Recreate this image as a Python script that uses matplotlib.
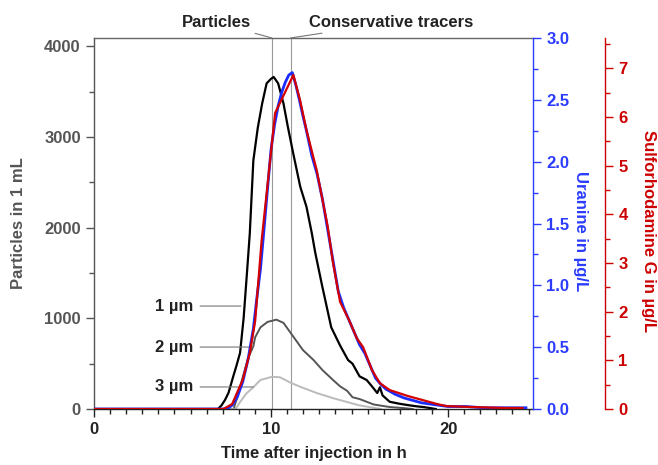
import matplotlib
matplotlib.use('Agg')
import matplotlib.pyplot as plt
from matplotlib.ticker import MultipleLocator, FormatStrFormatter

plt.rcParams['font.family'] = ['Liberation Sans', 'DejaVu Sans']
plt.rcParams['font.weight'] = 'bold'

# particle counts (particles in 1 mL) vs time after injection (h)
t_1um = [0, 7.0, 7.2, 7.4, 7.6, 7.85, 8.05, 8.25, 8.45, 8.65, 8.8, 9.0, 9.25, 9.5, 9.75,
         10.0, 10.15, 10.4, 10.7, 10.95, 11.25, 11.65, 12.0, 12.3, 12.5, 12.9, 13.4, 13.9,
         14.35, 14.6, 15.0, 15.4, 15.7, 16.0, 16.15, 16.3, 16.7, 17.2, 17.7, 18.2, 18.6, 19.0, 19.3]
n_1um = [0, 0, 40, 100, 180, 350, 480, 620, 1000, 1530, 1940, 2740, 3100, 3370, 3590,
         3640, 3660, 3590, 3370, 3110, 2820, 2450, 2230, 1940, 1720, 1345, 900, 700,
         540, 500, 360, 320, 250, 176, 240, 150, 80, 60, 44, 30, 22, 10, 0]

t_2um = [0, 7.9, 7.95, 8.1, 8.4, 8.7, 9.0, 9.1, 9.4, 9.8, 10.3, 10.7, 11.25, 11.8, 12.4,
         12.9, 13.5, 13.9, 14.3, 14.6, 15.0, 15.8, 16.7, 17.5, 18.0]
n_2um = [0, 0, 44, 130, 350, 560, 690, 790, 900, 960, 985, 950, 800, 650, 540,
         430, 320, 250, 200, 130, 110, 50, 22, 10, 0]

t_3um = [0, 8.0, 8.25, 8.6, 9.0, 9.4, 10.05, 10.5, 11.1, 11.65, 12.6, 13.5, 14.5, 15.0, 15.6, 16.2]
n_3um = [0, 0, 77, 170, 240, 320, 355, 350, 290, 245, 175, 120, 66, 40, 20, 0]

# uranine (µg/L)
t_uranine = [0, 7.5, 7.8, 8.1, 8.4, 8.7, 9.0, 9.2, 9.4, 9.6, 9.8, 10.0, 10.2, 10.4, 10.6,
             10.8, 11.0, 11.2, 11.4, 11.6, 11.8, 12.0, 12.3, 12.6, 12.9, 13.2, 13.5, 13.8,
             14.1, 14.4, 14.7, 15.0, 15.3, 15.6, 15.9, 16.2, 16.5, 17.0, 17.5, 18.0, 18.5,
             19.0, 19.5, 20.0, 21.0, 22.0, 23.0, 24.4]
c_uranine = [0, 0, 0.03, 0.1, 0.22, 0.4, 0.65, 0.9, 1.13, 1.45, 1.78, 2.1, 2.3, 2.45, 2.56,
             2.64, 2.7, 2.72, 2.62, 2.5, 2.37, 2.25, 2.05, 1.9, 1.7, 1.45, 1.2, 0.95,
             0.82, 0.72, 0.62, 0.52, 0.45, 0.35, 0.25, 0.2, 0.16, 0.12, 0.09, 0.07, 0.05,
             0.04, 0.03, 0.02, 0.02, 0.01, 0.01, 0.01]

# sulforhodamine G (µg/L)
t_sulfo = [0, 7.3, 7.8, 8.4, 8.8, 9.1, 9.47, 9.85, 10.23, 11.26, 11.64, 12.0, 12.58, 13.2,
           13.5, 13.9, 14.4, 14.85, 15.2, 15.7, 16.15, 16.7, 17.7, 18.6, 19.4, 19.9, 21.4, 23.3, 24.2]
c_sulfo = [0, 0, 0.1, 0.6, 1.15, 1.8, 3.47, 4.77, 6.08, 6.86, 6.34, 5.73, 4.9, 3.75,
           3.0, 2.2, 1.83, 1.45, 1.27, 0.8, 0.53, 0.39, 0.27, 0.18, 0.1, 0.06, 0.04, 0.02, 0.02]

# peak times marked by vertical lines
peak_particles = 10.05
peak_tracers = 11.1

# size labels: (text, y of leader, x where leader meets the curve)
size_labels = [('1 µm', 1135, 8.3), ('2 µm', 683, 9.0), ('3 µm', 243, 9.0)]

grey = '#555555'
blue = '#2b3cff'
red = '#cc0000'

fig = plt.figure(figsize=(6.58, 4.65), dpi=100)
ax = fig.add_axes([0.1429, 0.1204, 0.6672, 0.7979])
ax2 = ax.twinx()
ax3 = ax.twinx()

ax.plot(t_1um, n_1um, color='black', lw=1.6)
ax.plot(t_2um, n_2um, color='#555555', lw=1.4)
ax.plot(t_3um, n_3um, color='#bbbbbb', lw=1.4)
ax2.plot(t_uranine, c_uranine, color='#1a2cff', lw=2.0)
ax3.plot(t_sulfo, c_sulfo, color='#d40000', lw=1.6)

ax.axvline(peak_particles, color='#999999', lw=0.8, zorder=0)
ax.axvline(peak_tracers, color='#999999', lw=0.8, zorder=0)

ax.set_xlim(0, 24.8)
ax.set_ylim(0, 4090)
ax2.set_ylim(0, 3.0)
ax3.set_ylim(0, 7.62)

ax.xaxis.set_major_locator(MultipleLocator(10))
ax.xaxis.set_minor_locator(MultipleLocator(10 / 11))
ax.yaxis.set_major_locator(MultipleLocator(1000))
ax.yaxis.set_minor_locator(MultipleLocator(500))
ax2.yaxis.set_major_locator(MultipleLocator(0.5))
ax2.yaxis.set_minor_locator(MultipleLocator(0.25))
ax2.yaxis.set_major_formatter(FormatStrFormatter('%.1f'))
ax3.yaxis.set_major_locator(MultipleLocator(1))
ax3.yaxis.set_minor_locator(MultipleLocator(0.5))

fs = 12
ax.tick_params(axis='x', which='major', length=6, width=1, colors='#222222', labelsize=fs)
ax.tick_params(axis='x', which='minor', length=3.5, width=1, colors='#222222')
ax.tick_params(axis='y', which='major', length=6, width=1, colors=grey, labelsize=fs)
ax.tick_params(axis='y', which='minor', length=3.5, width=1, colors=grey)
ax2.tick_params(axis='y', which='major', length=6, width=1, colors=blue, labelsize=fs)
ax2.tick_params(axis='y', which='minor', length=3.5, width=1, colors=blue)
ax3.tick_params(axis='y', which='major', length=6, width=1, colors=red, labelsize=fs)
ax3.tick_params(axis='y', which='minor', length=3.5, width=1, colors=red)

for a in (ax2, ax3):
    a.spines['left'].set_visible(False)
    a.spines['top'].set_visible(False)
    a.spines['bottom'].set_visible(False)
ax.spines['right'].set_visible(False)
ax.spines['left'].set_color(grey)
ax.spines['top'].set_color('#666666')
ax.spines['bottom'].set_color('#222222')
ax2.spines['right'].set_color(blue)
ax3.spines['right'].set_color(red)
ax3.spines['right'].set_position(('outward', 52))
for a in (ax, ax2, ax3):
    for s in a.spines.values():
        s.set_linewidth(1.0)

ax.set_xlabel('Time after injection in h', fontsize=fs, color='#222222', fontweight='bold')
ax.xaxis.set_label_coords(0.5, -0.1)
ax.set_ylabel('Particles in 1 mL', fontsize=fs, color=grey, fontweight='bold', va='center')
ax.yaxis.set_label_coords(-0.173, 0.5)
ax2.set_ylabel('Uranine in µg/L', fontsize=fs, color=blue, fontweight='bold', rotation=270, va='center')
ax2.yaxis.set_label_coords(1.109, 0.48)
ax3.set_ylabel('Sulforhodamine G in µg/L', fontsize=fs, color=red, fontweight='bold', rotation=270, va='center')
ax3.yaxis.set_label_coords(1.262, 0.48)

# size labels with leader lines
for text, ylab, xcurve in size_labels:
    ax.annotate(text, xy=(xcurve, ylab), xytext=(5.6, ylab), textcoords='data',
                ha='right', va='center', fontsize=fs, color='#222222', fontweight='bold',
                arrowprops=dict(arrowstyle='-', color='#777777', lw=0.8, shrinkA=3, shrinkB=0))

# top labels for peak lines
ax.annotate('Particles', xy=(peak_particles, 1.0), xycoords=('data', 'axes fraction'),
            xytext=(-15, 11), textcoords='offset points', ha='right', va='center',
            fontsize=fs, color='#222222', fontweight='bold',
            arrowprops=dict(arrowstyle='-', color='#777777', lw=0.8, shrinkA=1, shrinkB=0))
ax.annotate('Conservative tracers', xy=(peak_tracers, 1.0), xycoords=('data', 'axes fraction'),
            xytext=(13, 11), textcoords='offset points', ha='left', va='center',
            fontsize=fs, color='#222222', fontweight='bold',
            arrowprops=dict(arrowstyle='-', color='#777777', lw=0.8, shrinkA=1, shrinkB=0))

fig.savefig('out.png', dpi=100)
